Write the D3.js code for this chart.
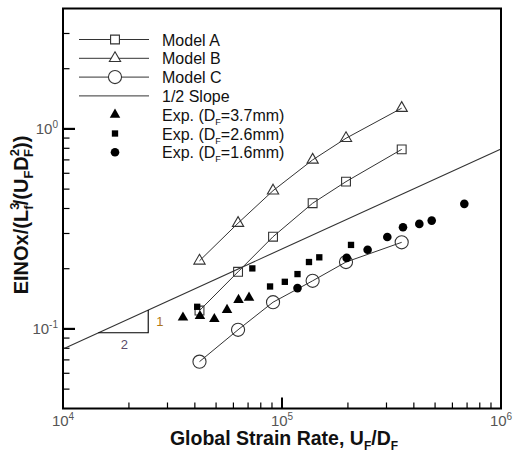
<!DOCTYPE html>
<html><head><meta charset="utf-8">
<script src="https://cdn.jsdelivr.net/npm/d3@7"></script>
<style>body{margin:0;background:#fff}svg{display:block}text{font-family:"Liberation Sans",Arial,sans-serif}</style>
</head><body><svg id="c" width="514" height="452"></svg>
<script>
// ---- data ----
const modelX = [42000, 63000, 91000, 138000, 196000, 352000];
const modelA = [0.1235, 0.193, 0.289, 0.425, 0.545, 0.79];
const modelB = [0.219, 0.338, 0.491, 0.70, 0.898, 1.27];
const modelC = [0.0686, 0.099, 0.136, 0.174, 0.216, 0.271];
const exp37X = [35300, 42200, 49100, 56100, 63300, 70700];
const exp37Y = [0.114, 0.116, 0.112, 0.1245, 0.1396, 0.1433];
const exp26X = [41000, 73200, 88200, 103000, 117700, 132800, 148000, 206600];
const exp26Y = [0.129, 0.2007, 0.163, 0.172, 0.188, 0.216, 0.228, 0.263];
const exp16X = [117700, 197400, 246000, 302600, 356800, 423700, 482600, 680000];
const exp16Y = [0.160, 0.2265, 0.249, 0.288, 0.3225, 0.335, 0.348, 0.422];
const slopeX = [1e4, 1e6];
const slopeY = [0.0794, 0.794];
const slopeTriX = [14500, 24500];
const xTickExps = [4, 5, 6];
const yTickExps = [0, -1];
const legendLabels = ["Model A", "Model B", "Model C", "1/2 Slope", "Exp. (D|F|=3.7mm)", "Exp. (D|F|=2.6mm)", "Exp. (D|F|=1.6mm)"];

const svg = d3.select("#c");
const L = 63, R = 501, T = 8.5, B = 408.5;
const x = d3.scaleLog().domain([1e4, 1e6]).range([L, R]);
const y = d3.scaleLog().domain([0.04, 4]).range([B, T]);
const lineCol = "#333";

// axes ticks (inside)
const xMinor = [], yMinor = [];
for (let e = 4; e < 6; e++) for (let k = 2; k <= 9; k++) xMinor.push(k * Math.pow(10, e));
for (let e = -2; e <= 0; e++) for (let k = 2; k <= 9; k++) { const v = k * Math.pow(10, e); if (v > 0.04 && v < 4) yMinor.push(v); }
const ax = svg.append("g").attr("stroke", "#000");
ax.selectAll(".xm").data(xMinor).join("line").attr("x1", d => x(d)).attr("x2", d => x(d)).attr("y1", B).attr("y2", B - 6).attr("stroke-width", 1.2);
ax.selectAll(".xM").data(xTickExps).join("line").attr("x1", d => x(Math.pow(10, d))).attr("x2", d => x(Math.pow(10, d))).attr("y1", B).attr("y2", B - 11).attr("stroke-width", 2);
ax.selectAll(".ym").data(yMinor).join("line").attr("y1", d => y(d)).attr("y2", d => y(d)).attr("x1", L).attr("x2", L + 6.5).attr("stroke-width", 1.2);
ax.selectAll(".yM").data(yTickExps).join("line").attr("y1", d => y(Math.pow(10, d))).attr("y2", d => y(Math.pow(10, d))).attr("x1", L).attr("x2", L + 12).attr("stroke-width", 2.2);

// tick labels
const tl = svg.append("g").attr("fill", "#555").attr("font-size", 15);
xTickExps.forEach(e => {
  const t = tl.append("text").attr("x", x(Math.pow(10, e))).attr("y", B + 17).attr("text-anchor", "middle");
  t.append("tspan").text("10");
  t.append("tspan").attr("dy", -6).attr("font-size", 10).text(e);
});
yTickExps.forEach(e => {
  const t = tl.append("text").attr("x", L - 5).attr("y", y(Math.pow(10, e)) + 5).attr("text-anchor", "end");
  t.append("tspan").text("10");
  t.append("tspan").attr("dy", -6).attr("font-size", 10).text(e === -1 ? "-1" : e);
});

// slope line
const ln = d3.line().x(d => x(d[0])).y(d => y(d[1]));
svg.append("path").attr("d", ln(slopeX.map((v, i) => [v, slopeY[i]]))).attr("fill", "none").attr("stroke", lineCol).attr("stroke-width", 1.1);
// slope triangle
const sy = v => slopeY[0] * Math.sqrt(v / slopeX[0]);
svg.append("path").attr("d", ln([[slopeTriX[0], sy(slopeTriX[0])], [slopeTriX[1], sy(slopeTriX[0])], [slopeTriX[1], sy(slopeTriX[1])]]))
  .attr("fill", "none").attr("stroke", "#000").attr("stroke-width", 1.1);
svg.append("text").attr("x", x(slopeTriX[1]) + 8).attr("y", (y(sy(slopeTriX[0])) + y(sy(slopeTriX[1]))) / 2 + 5).attr("font-size", 13).attr("fill", "#b07818").text("1");
svg.append("text").attr("x", (x(slopeTriX[0]) + x(slopeTriX[1])) / 2 + 1).attr("y", y(sy(slopeTriX[0])) + 16).attr("font-size", 13).attr("fill", "#5a4a6a").attr("text-anchor", "middle").text("2");

// model series
const sym = (type, size) => d3.symbol().type(type).size(size)();
const models = [
  { v: modelA, t: d3.symbolSquare, s: 78 },
  { v: modelB, t: d3.symbolTriangle, s: 55 },
  { v: modelC, t: d3.symbolCircle, s: 135 }
];
models.forEach(m => {
  const pts = modelX.map((v, i) => [v, m.v[i]]);
  svg.append("path").attr("d", ln(pts)).attr("fill", "none").attr("stroke", lineCol).attr("stroke-width", 1);
  svg.append("g").selectAll("path").data(pts).join("path")
    .attr("d", sym(m.t, m.s)).attr("transform", d => `translate(${x(d[0])},${y(d[1])})`)
    .attr("fill", "none").attr("stroke", "#333").attr("stroke-width", 1.1);
});

// experiments
const exps = [
  { xs: exp37X, ys: exp37Y, t: d3.symbolTriangle, s: 48 },
  { xs: exp26X, ys: exp26Y, t: d3.symbolSquare, s: 40 },
  { xs: exp16X, ys: exp16Y, t: d3.symbolCircle, s: 58 }
];
exps.forEach(e => {
  svg.append("g").selectAll("path").data(e.xs.map((v, i) => [v, e.ys[i]])).join("path")
    .attr("d", sym(e.t, e.s)).attr("transform", d => `translate(${x(d[0])},${y(d[1])})`).attr("fill", "#000");
});

// frame
svg.append("rect").attr("x", L).attr("y", T).attr("width", R - L).attr("height", B - T).attr("fill", "none").attr("stroke", "#000").attr("stroke-width", 2);

// legend
const lg = svg.append("g");
const ly0 = 39.5, ldy = 18.8, lx1 = 79, lx2 = 149, lmx = 115, ltx = 162;
legendLabels.forEach((lab, i) => {
  const yy = ly0 + i * ldy;
  if (i < 4) lg.append("line").attr("x1", lx1).attr("x2", lx2).attr("y1", yy).attr("y2", yy).attr("stroke", lineCol).attr("stroke-width", 1);
  if (i < 3) lg.append("path").attr("d", sym(models[i].t, models[i].s)).attr("transform", `translate(${lmx},${yy})`).attr("fill", "#fff").attr("stroke", "#333").attr("stroke-width", 1.1);
  if (i >= 4) lg.append("path").attr("d", sym(exps[i - 4].t, exps[i - 4].s)).attr("transform", `translate(${lmx},${yy})`).attr("fill", "#000");
  const t = lg.append("text").attr("x", ltx).attr("y", yy + 6).attr("font-size", 16).attr("fill", "#111");
  const parts = lab.split("|");
  t.append("tspan").text(parts[0]);
  if (parts.length > 1) {
    t.append("tspan").attr("dy", 4).attr("font-size", 9).text(parts[1]);
    t.append("tspan").attr("dy", -4).text(parts[2]);
  }
});

// axis titles
const xt = svg.append("text").attr("x", 284).attr("y", 445).attr("text-anchor", "middle").attr("font-size", 19.5).attr("font-weight", "bold").attr("fill", "#111");
xt.append("tspan").text("Global Strain Rate, U");
xt.append("tspan").attr("dy", 5).attr("font-size", 12).text("F");
xt.append("tspan").attr("dy", -5).text("/D");
xt.append("tspan").attr("dy", 5).attr("font-size", 12).text("F");

const yt = svg.append("text").attr("transform", "translate(28,215) rotate(-90)").attr("text-anchor", "middle").attr("font-size", 20).attr("font-weight", "bold").attr("fill", "#111");
yt.append("tspan").text("EINOx/(L");
yt.append("tspan").attr("dy", -9).attr("font-size", 13).text("3");
yt.append("tspan").attr("dx", -7).attr("dy", 14).attr("font-size", 13).text("f");
yt.append("tspan").attr("dy", -5).text("/(U");
yt.append("tspan").attr("dy", 5).attr("font-size", 13).text("F");
yt.append("tspan").attr("dy", -5).text("D");
yt.append("tspan").attr("dy", -9).attr("font-size", 13).text("2");
yt.append("tspan").attr("dx", -8).attr("dy", 14).attr("font-size", 13).text("F");
yt.append("tspan").attr("dy", -5).text("))");
</script></body></html>
